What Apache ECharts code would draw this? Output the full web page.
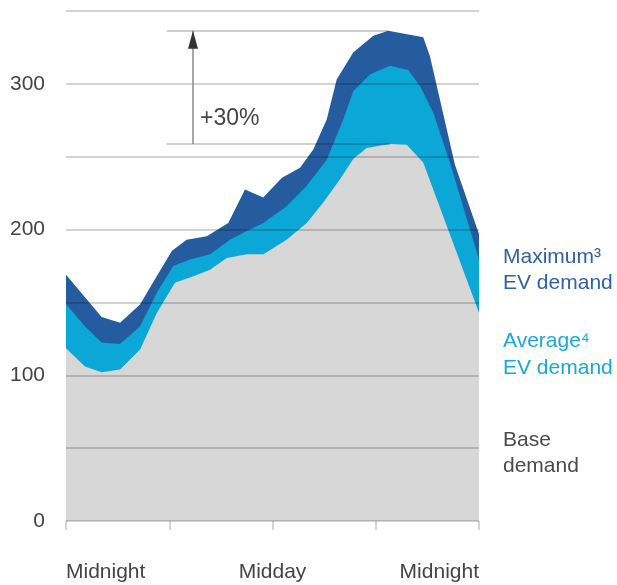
<!DOCTYPE html>
<html>
<head>
<meta charset="utf-8">
<script src="https://cdn.jsdelivr.net/npm/echarts@6/dist/echarts.min.js"></script>
<style>
  html, body { margin: 0; padding: 0; background: #ffffff; }
  #chart { width: 617px; height: 585px; }
</style>
</head>
<body>
<div id="chart"></div>
<script>
// Hour of day (0 = midnight, 24 = next midnight) and demand level for each profile
const maxHours  = [0, 2.07, 3.14, 4.3, 5.27, 6.16, 7.01, 8.18, 9.43, 10.4, 11.46, 12.55, 13.6, 14.37, 15.15, 15.73, 16.69, 17.86, 18.73, 20.76, 21.15, 22.6, 24];
const maxDemand = [169, 140, 136, 148.5, 168, 185.5, 193, 195.5, 204.5, 227.5, 222, 235.5, 242.5, 255, 275.5, 303, 321.5, 333, 336.5, 332, 319, 244.5, 197];

const avgHours  = [0, 1.1, 2.07, 3.14, 4.3, 5.27, 6.23, 7.2, 8.37, 9.53, 10.5, 11.47, 12.82, 13.99, 15.15, 16.11, 16.69, 17.66, 18.83, 19.89, 20.57, 21.35, 22.31, 24];
const avgDemand = [149, 133.5, 122.5, 121.5, 133.5, 156.5, 175, 179.5, 183, 193, 199, 204.5, 216, 230, 248, 275.5, 295, 306.5, 312.5, 309.5, 298.5, 280, 246, 179.5];

const baseHours  = [0, 1.1, 2.07, 3.14, 4.3, 5.27, 6.33, 7.4, 8.37, 9.34, 10.5, 11.47, 12.82, 13.99, 14.95, 15.92, 16.69, 17.47, 18.83, 19.8, 20.76, 24];
const baseDemand = [118.5, 106, 102, 104, 117.5, 142.5, 163.5, 168, 172.5, 180.5, 183, 183, 193, 204.5, 218.5, 234.5, 248.5, 256, 258.8, 258.2, 246, 143];

// Axis labels
const yTickLabels = [0, 100, 200, 300];
const xTickLabels = { 0: 'Midnight', 12: 'Midday', 24: 'Midnight' };

// Peak uplift annotation
const upliftText = '+30%';
const bracketStartHour = 5.85;
const arrowHour = 7.38;
const upliftLabelValue = 276;

const FONT = '"Liberation Sans", Arial, Helvetica, sans-serif';
const DARK_BLUE = '#245c9f';
const LIGHT_BLUE = '#0aa7d7';
const GREY = '#d6d7d6';

const pairs = (xs, ys) => xs.map((x, i) => [x, ys[i]]);

const maxPeak = Math.max(...maxDemand);
const maxPeakHour = maxHours[maxDemand.indexOf(maxPeak)];
const basePeak = Math.max(...baseDemand);
const basePeakHour = baseHours[baseDemand.indexOf(basePeak)];

function areaSeries(name, data, color) {
  return {
    name, type: 'line', data,
    showSymbol: false, silent: true,
    lineStyle: { width: 0 },
    areaStyle: { color, opacity: 1 },
    itemStyle: { color }
  };
}

const chart = echarts.init(document.getElementById('chart'), null, { renderer: 'canvas' });

chart.setOption({
  animation: false,
  grid: { left: 66, right: 138, top: 11, bottom: 64 },
  xAxis: {
    type: 'value', min: 0, max: 24, interval: 6,
    axisLine: { show: false },
    axisTick: { show: true, length: 9, lineStyle: { color: '#c8c8c8', width: 1.5 } },
    splitLine: { show: false },
    axisLabel: {
      margin: 41, fontSize: 21, color: '#444444', fontFamily: FONT,
      alignMinLabel: 'left', alignMaxLabel: 'right',
      formatter: v => xTickLabels[v] || ''
    }
  },
  yAxis: {
    type: 'value', min: 0, max: 350, interval: 50, z: 5,
    axisLine: { show: false },
    axisTick: { show: false },
    splitLine: { lineStyle: { color: 'rgba(0,0,0,0.23)', width: 1.5 } },
    axisLabel: {
      margin: 21, fontSize: 21, color: '#444444', fontFamily: FONT,
      formatter: v => yTickLabels.includes(v) ? String(v) : ''
    }
  },
  series: [
    areaSeries('Maximum EV demand', pairs(maxHours, maxDemand), DARK_BLUE),
    areaSeries('Average EV demand', pairs(avgHours, avgDemand), LIGHT_BLUE),
    areaSeries('Base demand', pairs(baseHours, baseDemand), GREY),
    {
      name: 'uplift', type: 'line', data: [], z: 6, silent: true,
      markLine: {
        silent: true, symbol: 'none', animation: false,
        label: { show: false },
        data: [
          [{ coord: [bracketStartHour, maxPeak], lineStyle: { color: 'rgba(0,0,0,0.25)', width: 1.5, type: 'solid' } },
           { coord: [maxPeakHour, maxPeak] }],
          [{ coord: [bracketStartHour, basePeak], lineStyle: { color: 'rgba(0,0,0,0.25)', width: 1.5, type: 'solid' } },
           { coord: [basePeakHour, basePeak] }],
          [{ coord: [arrowHour, basePeak], lineStyle: { color: '#8a8a8a', width: 1.5, type: 'solid' } },
           { coord: [arrowHour, maxPeak] }]
        ]
      },
      markPoint: {
        silent: true, animation: false,
        data: [
          {
            coord: [arrowHour, maxPeak], symbol: 'triangle', symbolSize: [10, 18],
            symbolOffset: [0, 9], itemStyle: { color: '#333333' }, label: { show: false }
          },
          {
            coord: [arrowHour, upliftLabelValue], symbol: 'circle', symbolSize: 0,
            itemStyle: { color: 'rgba(0,0,0,0)' },
            label: {
              show: true, position: 'right', distance: 7, formatter: upliftText,
              fontSize: 23, color: '#444444', fontFamily: FONT
            }
          }
        ]
      }
    }
  ],
  graphic: [
    {
      type: 'text', left: 503, top: 244,
      style: { text: 'Maximum\u00B3\nEV demand', fill: '#2f62a6', font: '21px ' + FONT, lineHeight: 26 }
    },
    {
      type: 'text', left: 503, top: 328,
      style: { text: 'Average\u2074\nEV demand', fill: '#17a9dc', font: '21px ' + FONT, lineHeight: 27 }
    },
    {
      type: 'text', left: 503, top: 427,
      style: { text: 'Base\ndemand', fill: '#4a4a4a', font: '21px ' + FONT, lineHeight: 26 }
    }
  ]
});
</script>
</body>
</html>
